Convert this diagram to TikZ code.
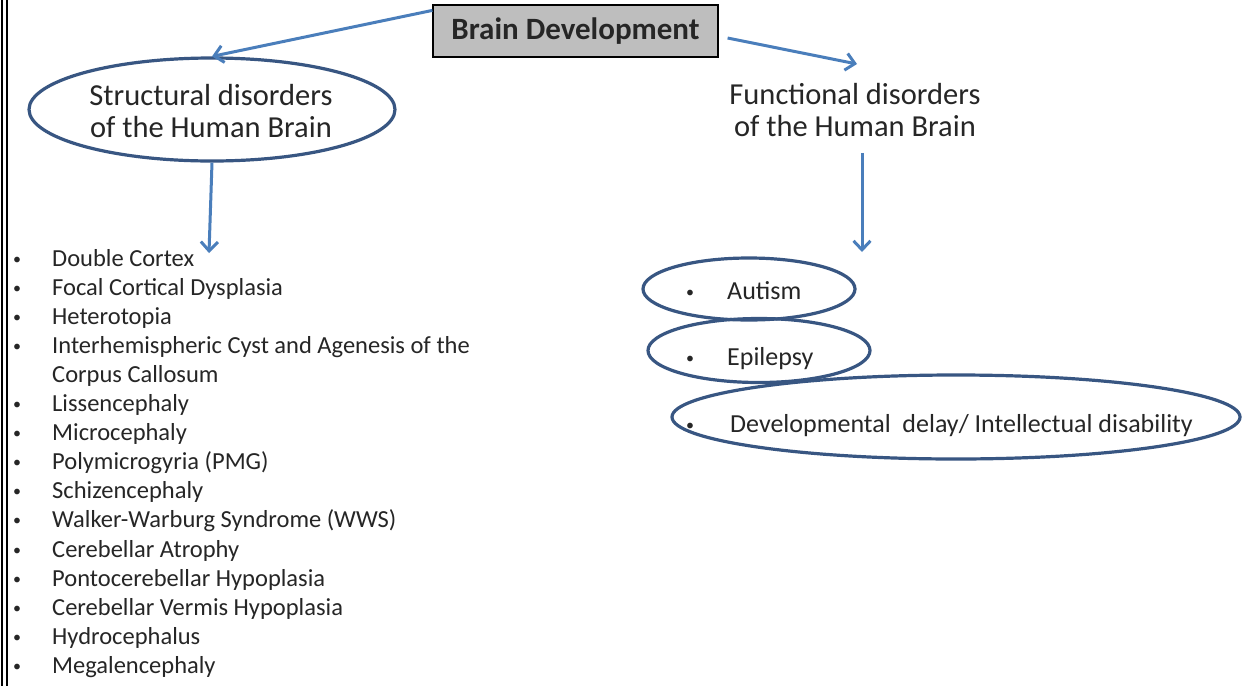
\documentclass[tikz,border=0pt]{standalone}
\usepackage{fontspec}
\setmainfont{Carlito}
\usetikzlibrary{positioning}
\usetikzlibrary{arrows.meta}
\usetikzlibrary{shapes.geometric}

\definecolor{arrowblue}{RGB}{74,126,187}
\definecolor{ringblue}{RGB}{56,86,130}
\definecolor{inkgray}{RGB}{38,38,38}
\definecolor{boxgray}{RGB}{190,190,190}

\tikzset{
  arr/.style={draw=arrowblue, line width=3pt, -{Straight Barb[length=9pt,width=17pt]}},
  ring/.style={ellipse, draw=ringblue, line width=3.2pt, inner sep=0pt},
  heading/.style={inner sep=0pt, align=center, text=inkgray, font=\fontsize{30.5}{32}\selectfont},
  listitem/.style={anchor=base west, inner sep=0pt, text=inkgray, font=\fontsize{24.5}{29}\selectfont},
  pickitem/.style={anchor=base west, inner sep=0pt, text=inkgray, font=\fontsize{26}{31}\selectfont},
  dotmark/.style={anchor=base, inner sep=0pt, text=inkgray, font=\fontsize{16}{20}\selectfont},
}

\begin{document}
\begin{tikzpicture}[x=1pt,y=-1pt]
  \useasboundingbox (0,0) rectangle (1243,686);
  \fill[white] (0,0) rectangle (1243,686);

  % left page border
  \draw[line width=1.6pt] (2,0) -- (2,686);
  \draw[line width=1.6pt] (7,0) -- (7,686);

  % top box
  \node[draw=black, fill=boxgray, line width=1.2pt, minimum width=285pt, minimum height=52pt,
        inner sep=0pt, font=\bfseries\fontsize{31}{34}\selectfont, text=inkgray] (bd) at (575.5,31) {Brain Development};

  % two branches
  \node[ring, minimum width=366pt, minimum height=103pt] (sd) at (212,109.5) {};
  \node[heading] (sdtext) at (211,111.5) {Structural disorders\\of the Human Brain};
  \node[heading] (fd) at (855,110) {Functional disorders\\of the Human Brain};

  \coordinate (stip) at (209,253);
  \coordinate (ftip) at (857,64);
  \coordinate (atip) at (862,252);

  \draw[arr] ([yshift=-6pt] bd.north west) -- (sd.north);
  \draw[arr] ([xshift=9pt,yshift=-7pt] bd.east) -- (ftip);
  \draw[arr] (sd.south) -- (stip);
  \draw[arr] ([xshift=7pt,yshift=-16pt] fd.south) -- (atip);

  % structural list
  \foreach \txt [count=\i from 0] in {Double Cortex, Focal Cortical Dysplasia, Heterotopia,
      Interhemispheric Cyst and Agenesis of the, Corpus Callosum, Lissencephaly, Microcephaly,
      Polymicrogyria (PMG), Schizencephaly, Walker-Warburg Syndrome (WWS), Cerebellar Atrophy,
      Pontocerebellar Hypoplasia, Cerebellar Vermis Hypoplasia, Hydrocephalus, Megalencephaly}{
    \node[listitem] (sl\i) at (52,266+29.1*\i) {\txt};
    \ifnum\i=4\else
      \node[dotmark] (sb\i) at (17,264+29.1*\i) {\textbullet};
    \fi
  }

  % functional list
  \node[ring, minimum width=212pt, minimum height=62pt] (au) at (749,289) {};
  \node[ring, minimum width=222pt, minimum height=64pt] (ep) at (759,350.5) {};
  \node[ring, minimum width=568pt, minimum height=84pt] (dd) at (956,417) {};

  \node[dotmark] (aub) at (690,297) {\textbullet};
  \node[pickitem] (aut) at (727,299) {Autism};
  \node[dotmark] (epb) at (690,363) {\textbullet};
  \node[pickitem] (ept) at (727,365) {Epilepsy};
  \node[dotmark] (ddb) at (690,430) {\textbullet};
  \node[pickitem] (ddt) at (730,432) {Developmental\ \ delay/ Intellectual disability};
\end{tikzpicture}
\end{document}
